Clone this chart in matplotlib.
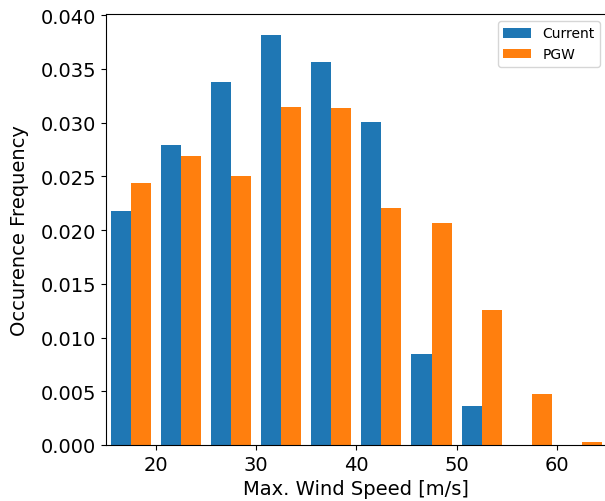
import numpy as np
import matplotlib
matplotlib.use('Agg')
from matplotlib import pyplot as plt

# bordes de los bins (m/s)
bin_edges = [15, 20, 25, 30, 35, 40, 45, 50, 55, 60, 65]
# frecuencias
current = [0.0218, 0.0279, 0.0338, 0.0382, 0.0356, 0.0301, 0.0085, 0.0036, 0.0, 0.0]
pgw = [0.0244, 0.0269, 0.0250, 0.0315, 0.0314, 0.0221, 0.0207, 0.0126, 0.0047, 0.0003]
labels = ['Current', 'PGW']

centros = [(bin_edges[i] + bin_edges[i + 1]) / 2 for i in range(len(bin_edges) - 1)]

fig = plt.figure(figsize=(6.05, 5.02), dpi=100)
ax = fig.add_axes([105.7 / 605, 1 - 446 / 502, (607 - 105.7) / 605, (446 - 15) / 502])

ax.hist([centros, centros], bins=bin_edges, weights=[current, pgw],
        color=['tab:blue', 'tab:orange'], label=labels)

ax.set_xlim(15, 65)
ax.set_xticks([20, 30, 40, 50, 60])
ax.set_xlabel('Max. Wind Speed [m/s]', fontsize=14)
ax.set_ylabel('Occurence Frequency', fontsize=14, labelpad=8)
ax.tick_params(labelsize=14)
ax.legend(loc='upper right', fontsize=10)

plt.savefig('out.png', dpi=100)
